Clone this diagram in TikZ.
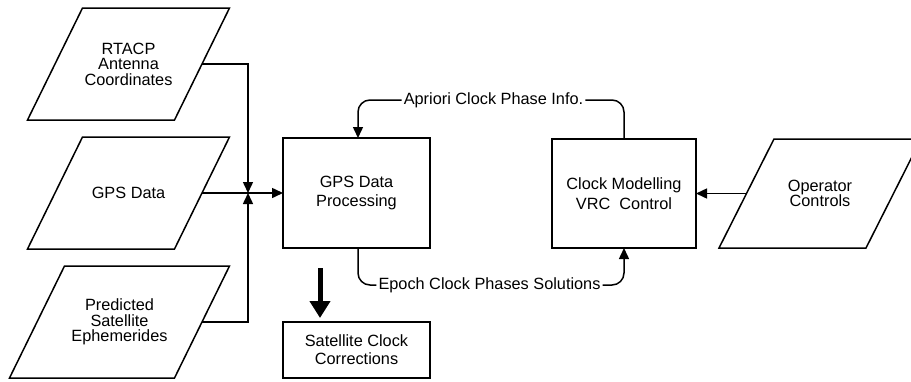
\documentclass[tikz,border=0pt]{standalone}
\usepackage{fontspec}
\setmainfont{Liberation Sans}
\usetikzlibrary{arrows.meta}

\tikzset{
  datain/.style={rectangle, minimum width=147pt, minimum height=112pt, align=center,
    outer sep=0pt, font=\fontsize{16.3}{15.5}\selectfont,
    append after command={\pgfextra{\draw
      ([xshift=27.5pt]\tikzlastnode.north west) -- ([xshift=27.5pt]\tikzlastnode.north east)
      -- ([xshift=-27.5pt]\tikzlastnode.south east) -- ([xshift=-27.5pt]\tikzlastnode.south west)
      -- cycle;}}},
  procbox/.style={draw, rectangle, minimum width=147pt, minimum height=110pt,
    align=center, outer sep=0pt, font=\fontsize{16.3}{19.5}\selectfont},
  flowlbl/.style={inner sep=1.5pt, font=\fontsize{16.3}{18}\selectfont},
  bigarrow/.style={line width=5pt, -{Triangle[length=17pt,width=20pt]}},
}

\begin{document}
\begin{tikzpicture}[x=1pt,y=-1pt,line width=1.5pt,>={Triangle[length=11pt,width=10pt]}]
    \useasboundingbox (0,0) rectangle (911,381);

    % inputs
    \node[datain] (rtacp) at (128.5,64) {RTACP\\Antenna\\Coordinates};
    \node[datain] (gpsdata) at (128.5,193) {GPS Data};
    \node[datain, minimum width=165pt] (ephem) at (119.5,322) {Predicted\\Satellite\\Ephemerides};
    \node[datain, minimum height=109pt] (operator) at (820,193.5) {Operator\\Controls};

    % processing
    \node[procbox] (proc) at (356.5,193) {GPS Data\\Processing};
    \node[procbox, minimum width=144pt, minimum height=109pt] (clock) at (624,193.5) {Clock Modelling\\VRC\ \ Control};
    \node[procbox, minimum height=56pt, font=\fontsize{16.3}{18}\selectfont] (satcorr) at (356.5,350) {Satellite Clock\\Corrections};

    % flow labels
    \node[flowlbl] (apriori) at (493.5,100) {Apriori Clock Phase Info.};
    \node[flowlbl] (epoch) at (489.5,285) {Epoch Clock Phases Solutions};
    \coordinate (join) at (248,193);
    \coordinate (outtop) at (320,268);

    \draw [->] (rtacp.east) -| (join);
    \draw [->] (ephem.east) -| (join);
    \draw [->] (gpsdata.east) -- (proc.west);
    \draw [->] (operator.west) -- (clock.east);

    \draw [rounded corners=12pt] (clock.north) |- (apriori.east);
    \draw [->,rounded corners=12pt] (apriori.west) -| ([xshift=1.5pt]proc.north);
    \draw [rounded corners=12pt] ([xshift=1.5pt]proc.south) |- (epoch.west);
    \draw [->,rounded corners=12pt] (epoch.east) -| (clock.south);

    \draw [bigarrow, shorten >=4pt] (outtop) -- (outtop |- satcorr.north);
\end{tikzpicture}
\end{document}
